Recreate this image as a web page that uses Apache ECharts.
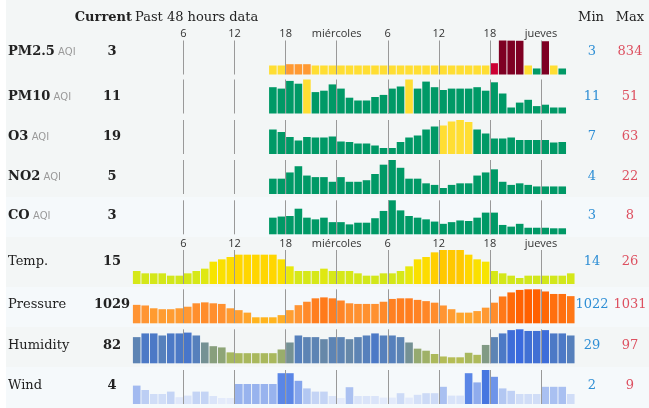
<!DOCTYPE html>
<html><head><meta charset="utf-8">
<script src="https://cdn.jsdelivr.net/npm/echarts@6/dist/echarts.min.js"></script>
<style>html,body{margin:0;padding:0;background:#fff}#c{width:649px;height:408px}</style>
</head><body><div id="c"></div>
<script>
// ---------- data ----------
const tickHours = [6, 12, 18, 24, 30, 36, 42, 48];
const tickLabels = ['6', '12', '18', 'miércoles', '6', '12', '18', 'jueves'];
const pollutantStartHour = 16;
const weatherStartHour = 0;

const rowNames = ['PM2.5', 'PM10', 'O3', 'NO2', 'CO', 'Temp.', 'Pressure', 'Humidity', 'Wind'];
const rowUnits = ['AQI', 'AQI', 'AQI', 'AQI', 'AQI', '', '', '', ''];
const currentValues = [3, 11, 19, 5, 3, 15, 1029, 82, 4];
const minValues = [3, 11, 7, 4, 3, 14, 1022, 29, 2];
const maxValues = [834, 51, 63, 22, 8, 26, 1031, 97, 9];

const pm25 = [92, 92, 131, 131, 131, 92, 92, 92, 92, 92, 92, 92, 92, 92, 92, 92, 92, 92, 92, 92, 92, 92, 92, 92, 92, 92, 160, 834, 830, 826, 92, 4, 812, 92, 3];
const pm10 = [40, 38, 49, 45, 51, 33, 35, 44, 38, 25, 21, 21, 26, 29, 38, 41, 51, 38, 48, 40, 36, 38, 38, 38, 40, 35, 47, 31, 11, 18, 22, 13, 15, 11, 11];
const o3 = [44, 39, 29, 22, 29, 28, 28, 30, 20, 19, 16, 16, 12, 7, 7, 19, 28, 32, 44, 50, 52, 60, 63, 59, 44, 36, 26, 26, 28, 23, 23, 23, 23, 18, 19];
const no2 = [10, 10, 14, 18, 12, 11, 11, 8, 11, 8, 8, 9, 13, 19, 22, 17, 10, 10, 7, 6, 4, 6, 7, 7, 12, 14, 16, 8, 6, 7, 6, 5, 5, 5, 5];
const co = [4.9, 5.1, 5.2, 6.5, 4.9, 4.6, 4.9, 4.1, 4.1, 3.7, 4.0, 4.0, 4.8, 6.1, 8, 6.2, 5.2, 4.9, 4.6, 4.2, 3.8, 4.1, 4.4, 4.3, 4.9, 5.8, 5.8, 3.6, 3.3, 3.8, 3.1, 3.1, 3.1, 3, 3];
const temp = [17, 16, 16, 16, 15, 15, 16, 17, 18, 21, 22, 23, 24, 24, 24, 24, 24, 22, 19, 17, 17, 17, 18, 17, 17, 17, 16, 15, 15, 16, 16, 17, 19, 22, 23, 25, 26, 26, 26, 24, 22, 21, 17, 16, 15, 14, 15, 15, 15, 15, 15, 16];
const pressure = [1026.0, 1025.8, 1024.9, 1024.6, 1024.6, 1024.9, 1025.4, 1026.5, 1026.8, 1026.5, 1026.3, 1024.9, 1024.3, 1023.5, 1022.0, 1022.0, 1022.0, 1022.7, 1024.3, 1025.9, 1027.0, 1028.1, 1028.4, 1028.1, 1027.4, 1026.5, 1026.3, 1026.3, 1026.3, 1027.0, 1027.9, 1028.1, 1028.1, 1027.6, 1027.2, 1026.7, 1025.8, 1024.6, 1023.5, 1023.5, 1024.0, 1025.1, 1026.7, 1028.7, 1030.0, 1030.8, 1031.0, 1031.0, 1030.3, 1029.5, 1029.5, 1028.8];
const humidity = [78, 87, 87, 82, 87, 87, 89, 82, 65, 56, 53, 41, 39, 39, 39, 39, 39, 48, 65, 82, 78, 78, 73, 78, 78, 73, 78, 82, 87, 82, 82, 78, 65, 50, 45, 37, 31, 29, 29, 40, 35, 59, 78, 87, 95, 97, 93, 93, 95, 87, 87, 82];
const wind = [5.1, 4, 3, 3, 3.6, 2.2, 2.6, 3.6, 3.6, 2.5, 2, 2, 5.5, 5.5, 5.5, 5.5, 5.5, 8.2, 8.2, 6.3, 4.4, 3.6, 3.6, 2.5, 2, 4.7, 2.5, 2.5, 2.5, 2.1, 2.1, 3.2, 2.1, 2.8, 3.2, 3.2, 4.8, 2.6, 2.6, 8.2, 5.9, 9, 7.3, 4.4, 3.8, 3, 3, 3, 4.8, 4.8, 4.8, 3];

// ---------- styles / layout ----------
const serif = 'DejaVu Serif';
const rowBottoms = [74.5, 113.5, 154, 194, 234.3, 284, 323.3, 363.3, 404];
const labelYs = [52, 97, 137, 177, 216, 262, 305, 346, 386];
const rowH = 34, baseH = 6;
const gridLeft = 135, gridWidth = 440;
const xMin = 0.3, xMax = 52;

function aqiColor(v) {
  if (v <= 50) return '#009966';
  if (v <= 100) return '#ffde33';
  if (v <= 150) return '#ff9933';
  if (v <= 200) return '#cc0033';
  if (v <= 300) return '#660099';
  return '#7e0023';
}
function hexToRgb(h) { return [1, 3, 5].map(i => parseInt(h.substr(i, 2), 16)); }
function gradient(stops) {
  return function (v) {
    if (v <= stops[0][0]) return stops[0][1];
    for (let i = 1; i < stops.length; i++) {
      if (v <= stops[i][0]) {
        const t = (v - stops[i - 1][0]) / (stops[i][0] - stops[i - 1][0]);
        const a = hexToRgb(stops[i - 1][1]), b = hexToRgb(stops[i][1]);
        return 'rgb(' + a.map((c, k) => Math.round(c + (b[k] - c) * t)).join(',') + ')';
      }
    }
    return stops[stops.length - 1][1];
  };
}
const tempColor = gradient([[14, '#d0e61c'], [17, '#d6e818'], [19, '#e8e80c'], [21, '#f7e400'], [23, '#fddc00'], [24, '#ffd600'], [26, '#ffc800']]);
const presColor = gradient([[1022, '#ffb41e'], [1024, '#ffa030'], [1026, '#ff9433'], [1028, '#ff7f20'], [1030, '#ff6a08'], [1031, '#ff6000']]);
const humColor = gradient([[29, '#b5bd55'], [40, '#a8b85e'], [50, '#95aa70'], [60, '#7f9886'], [70, '#6b8aa2'], [80, '#5a82b8'], [88, '#4a78c8'], [97, '#3a6ade']]);
const windColor = gradient([[2, '#e4ebfb'], [3, '#d0ddf7'], [4, '#bccef4'], [5.5, '#98b3ee'], [7, '#7598ea'], [8.2, '#5a86e6'], [9, '#4676e0']]);

const rows = [
  { data: pm25, start: pollutantStartHour, color: aqiColor, first: true },
  { data: pm10, start: pollutantStartHour, color: aqiColor },
  { data: o3, start: pollutantStartHour, color: aqiColor },
  { data: no2, start: pollutantStartHour, color: aqiColor },
  { data: co, start: pollutantStartHour, color: aqiColor },
  { data: temp, start: weatherStartHour, color: tempColor, first: true },
  { data: pressure, start: weatherStartHour, color: presColor },
  { data: humidity, start: weatherStartHour, color: humColor },
  { data: wind, start: weatherStartHour, color: windColor }
];

const grids = [], xAxes = [], yAxes = [], series = [];
rows.forEach((r, i) => {
  grids.push({ left: gridLeft, width: gridWidth, top: rowBottoms[i] - rowH, height: rowH });
  xAxes.push({ type: 'value', gridIndex: i, min: xMin, max: xMax, show: false });
  const lo = minValues[i], hi = maxValues[i];
  const yMin = lo - baseH / (rowH - baseH) * (hi - lo);
  yAxes.push({ type: 'value', gridIndex: i, min: yMin, max: hi, startValue: yMin, show: false });
  series.push({
    type: 'bar', xAxisIndex: i, yAxisIndex: i, clip: true,
    barWidth: 7.6, animation: false,
    emphasis: { disabled: true },
    data: r.data.map((v, k) => [r.start + k + 0.5, v]),
    itemStyle: { color: p => r.color(p.value[1]) },
    markLine: {
      silent: true, animation: false, symbol: ['none', 'none'],
      lineStyle: { color: '#999', width: 1, type: 'solid' },
      label: r.first ? { show: true, position: 'end', formatter: '{b}', color: '#333', fontSize: 11, fontFamily: 'Open Sans', distance: 1 } : { show: false },
      emphasis: { disabled: true },
      data: tickHours.map((h, k) => ({ xAxis: h, name: tickLabels[k] }))
    }
  });
});

const graphic = [];
graphic.push({ type: 'rect', silent: true, z: -10, shape: { x: 6, y: 0, width: 643, height: 408 }, style: { fill: '#f3f6f6' } });
[[197, 237], [287, 327], [367, 408]].forEach(b => {
  graphic.push({ type: 'rect', silent: true, z: -9, shape: { x: 6, y: b[0], width: 643, height: b[1] - b[0] }, style: { fill: '#f5f9fb' } });
});
const txt = (text, x, y, opts) => graphic.push({ type: 'text', silent: true, z: 10, style: Object.assign({ text, x, y, verticalAlign: 'middle', fontFamily: serif, fontSize: 13, fill: '#222' }, opts) });
txt('Current', 132, 18, { align: 'right', fontWeight: 'bold' });
txt('Past 48 hours data', 135, 18, { align: 'left' });
txt('Min', 591, 18, { align: 'center' });
txt('Max', 630, 18, { align: 'center' });
rows.forEach((r, i) => {
  const y = labelYs[i];
  if (rowUnits[i]) {
    graphic.push({ type: 'text', silent: true, z: 10, style: {
      text: '{b|' + rowNames[i] + '} {s|' + rowUnits[i] + '}', x: 8, y, verticalAlign: 'middle',
      rich: { b: { fontFamily: serif, fontSize: 13, fontWeight: 'bold', fill: '#222' }, s: { fontFamily: 'DejaVu Sans', fontSize: 10, fill: '#9a9a9a' } }
    } });
  } else {
    txt(rowNames[i], 8, y, { align: 'left' });
  }
  txt(String(currentValues[i]), 112, y, { align: 'center', fontWeight: 'bold' });
  txt(String(minValues[i]), 592, y, { align: 'center', fill: '#2f8fd5' });
  txt(String(maxValues[i]), 630, y, { align: 'center', fill: '#dd5060' });
});

const chart = echarts.init(document.getElementById('c'), null, { renderer: 'canvas' });
chart.setOption({
  animation: false,
  backgroundColor: '#ffffff',
  grid: grids, xAxis: xAxes, yAxis: yAxes, series, graphic
});
</script></body></html>
